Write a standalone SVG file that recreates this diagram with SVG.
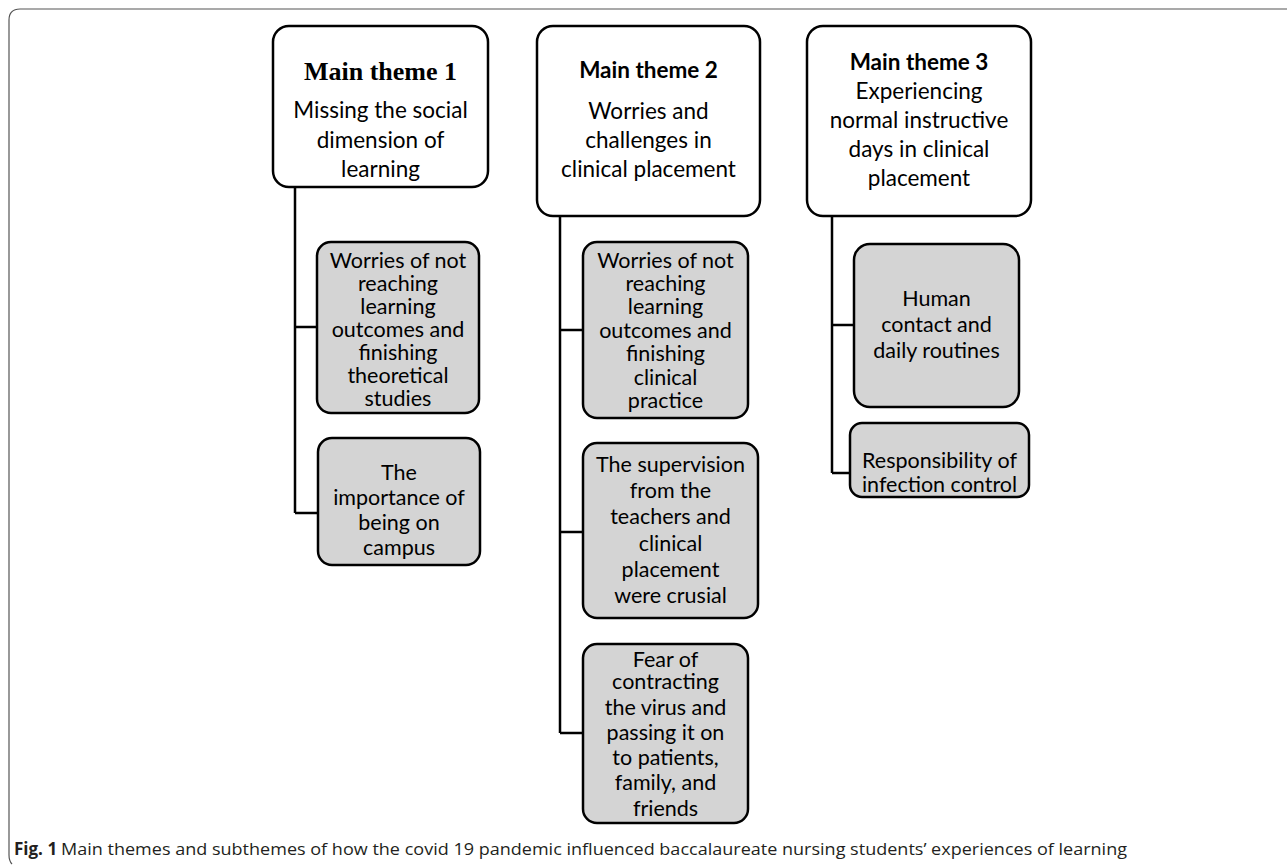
<svg xmlns="http://www.w3.org/2000/svg" width="1287" height="865" viewBox="0 0 1287 865">
<style>
.main{fill:#ffffff;stroke:#000;stroke-width:2.5}
.sub{fill:#d4d4d4;stroke:#000;stroke-width:2.5}
.t{font-family:Lato,"Open Sans",sans-serif;font-size:22.5px;fill:#000;text-anchor:middle}
.s{font-family:Lato,"Open Sans",sans-serif;font-size:21.5px;fill:#000;text-anchor:middle}
.hb{font-family:Lato,"Open Sans",sans-serif;font-size:22.5px;font-weight:bold;fill:#000;text-anchor:middle}
.hs{font-family:"Liberation Serif","Times New Roman",serif;font-size:26px;font-weight:bold;fill:#000;text-anchor:middle}
.cap{font-family:"Open Sans","Liberation Sans",sans-serif;font-size:17px;fill:#231f20}
#connectors path{fill:none;stroke:#000;stroke-width:2.5}
</style>
<rect width="1287" height="865" fill="#fff"/>
<g id="frame">
<path d="M1287,9 H20 Q9,9 9,20 V855 Q9,861 12,864" fill="none" stroke="#555" stroke-width="1.2"/>
</g>
<g id="connectors">
<path d="M295,187 V513 M295,327 H317 M295,513 H318"/>
<path d="M560,216 V733 M560,330 H583 M560,532 H583 M560,733 H583"/>
<path d="M832,216 V473 M832,325 H854 M832,473 H850"/>
</g>
<g id="main1">
<rect class="main" x="273" y="26" width="215" height="161" rx="16"/>
<text class="hs" x="380.5" y="80">Main theme 1</text>
<text class="t" x="380.5" y="118">Missing the social</text>
<text class="t" x="380.5" y="148">dimension of</text>
<text class="t" x="380.5" y="177">learning</text>
</g>
<g id="main2">
<rect class="main" x="537" y="26" width="223" height="190" rx="16"/>
<text class="hb" x="648.5" y="78">Main theme 2</text>
<text class="t" x="648.5" y="119">Worries and</text>
<text class="t" x="648.5" y="148">challenges in</text>
<text class="t" x="648.5" y="177">clinical placement</text>
</g>
<g id="main3">
<rect class="main" x="807" y="26" width="224" height="190" rx="16"/>
<text class="hb" x="919" y="70">Main theme 3</text>
<text class="t" x="919" y="99">Experiencing</text>
<text class="t" x="919" y="128">normal instructive</text>
<text class="t" x="919" y="157">days in clinical</text>
<text class="t" x="919" y="186">placement</text>
</g>
<g id="sub1a">
<rect class="sub" x="317" y="242" width="162" height="171" rx="14"/>
<text class="s" x="398" y="268">Worries of not</text>
<text class="s" x="398" y="291">reaching</text>
<text class="s" x="398" y="314">learning</text>
<text class="s" x="398" y="337">outcomes and</text>
<text class="s" x="398" y="360">finishing</text>
<text class="s" x="398" y="383">theoretical</text>
<text class="s" x="398" y="406">studies</text>
</g>
<g id="sub1b">
<rect class="sub" x="318" y="438" width="162" height="127" rx="14"/>
<text class="s" x="399" y="480">The</text>
<text class="s" x="399" y="505">importance of</text>
<text class="s" x="399" y="530">being on</text>
<text class="s" x="399" y="555">campus</text>
</g>
<g id="sub2a">
<rect class="sub" x="583" y="242" width="165" height="176" rx="14"/>
<text class="s" x="665.5" y="268">Worries of not</text>
<text class="s" x="665.5" y="291">reaching</text>
<text class="s" x="665.5" y="314">learning</text>
<text class="s" x="665.5" y="338">outcomes and</text>
<text class="s" x="665.5" y="361">finishing</text>
<text class="s" x="665.5" y="385">clinical</text>
<text class="s" x="665.5" y="408">practice</text>
</g>
<g id="sub2b">
<rect class="sub" x="583" y="443" width="175" height="175" rx="14"/>
<text class="s" x="670.5" y="472">The supervision</text>
<text class="s" x="670.5" y="498">from the</text>
<text class="s" x="670.5" y="524">teachers and</text>
<text class="s" x="670.5" y="551">clinical</text>
<text class="s" x="670.5" y="577">placement</text>
<text class="s" x="670.5" y="603">were crusial</text>
</g>
<g id="sub2c">
<rect class="sub" x="583" y="644" width="165" height="179" rx="14"/>
<text class="s" x="665.5" y="667">Fear of</text>
<text class="s" x="665.5" y="689">contracting</text>
<text class="s" x="665.5" y="715">the virus and</text>
<text class="s" x="665.5" y="740">passing it on</text>
<text class="s" x="665.5" y="765">to patients,</text>
<text class="s" x="665.5" y="790">family, and</text>
<text class="s" x="665.5" y="816">friends</text>
</g>
<g id="sub3a">
<rect class="sub" x="854" y="244" width="165" height="163" rx="16"/>
<text class="s" x="936.5" y="306">Human</text>
<text class="s" x="936.5" y="332">contact and</text>
<text class="s" x="936.5" y="358">daily routines</text>
</g>
<g id="sub3b">
<rect class="sub" x="850" y="423" width="179" height="74" rx="12"/>
<text class="s" x="939.5" y="468">Responsibility of</text>
<text class="s" x="939.5" y="492">infection control</text>
</g>
<g id="caption">
<text class="cap" x="14" y="855" font-weight="bold">Fig. 1</text>
<text class="cap" x="61" y="855" textLength="1066" lengthAdjust="spacingAndGlyphs">Main themes and subthemes of how the covid 19 pandemic influenced baccalaureate nursing students’ experiences of learning</text>
</g>
</svg>
